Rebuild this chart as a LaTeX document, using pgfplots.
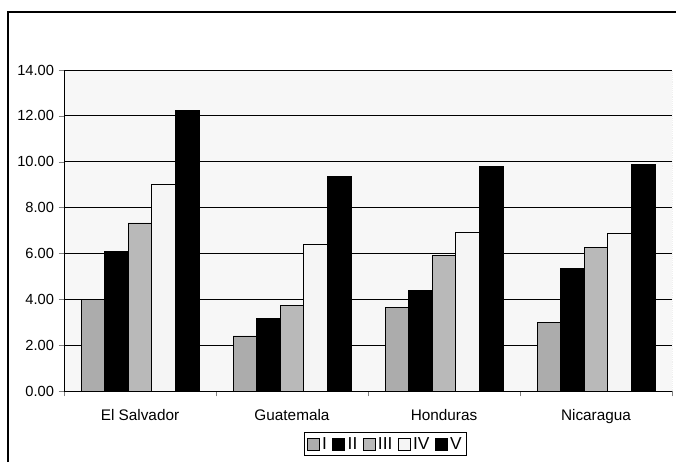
\documentclass[border=0pt]{standalone}
\usepackage{fontspec}
\setmainfont{Liberation Sans}
\usepackage{pgfplots}
\pgfplotsset{compat=1.18}
\usetikzlibrary{calc}
\begin{document}
\begin{tikzpicture}[x=0.75pt,y=0.75pt]
\begin{axis}[
  scale only axis, width=456pt, height=240.75pt,
  ybar=0pt, bar width=0.155,
  xmin=-0.5, xmax=3.5, ymin=0, ymax=14,
  xtick={0,1,2,3},
  xticklabels={El Salvador,Guatemala,Honduras,Nicaragua},
  minor xtick={-0.5,0.5,1.5,2.5,3.5},
  major x tick style={draw=none},
  minor tick length=4pt,
  ytick={0,2,...,14},
  major tick length=4pt,
  tick align=outside,
  axis x line*=bottom, axis y line*=left,
  axis line style={black, line width=0.6pt},
  ymajorgrids, major grid style={black, line width=0.6pt},
  yticklabel style={/pgf/number format/fixed,/pgf/number format/precision=2,/pgf/number format/fixed zerofill, font=\fontsize{11}{12}\selectfont},
  /pgf/number format/assume math mode=true,
  xticklabel style={font=\fontsize{11.5}{12}\selectfont, yshift=-6pt},
  axis background/.style={fill=gray!6},
  every axis plot/.append style={draw=black, line width=0.5pt},
  legend columns=5,
  legend style={at={(0.529,-0.128)}, anchor=north, draw=black, line width=0.6pt,
    font=\fontsize{13}{13}\selectfont, inner sep=1.5pt,
    /tikz/every even column/.append style={column sep=2pt}},
  legend image code/.code={\draw[#1, line width=0.5pt] (0pt,-4.5pt) rectangle (9pt,4.5pt);},
]
\addplot[fill=gray!65] coordinates {(0,4.00) (1,2.40) (2,3.66) (3,3.00)};
\addplot[fill=black] coordinates {(0,6.08) (1,3.15) (2,4.37) (3,5.33)};
\addplot[fill=gray!55] coordinates {(0,7.33) (1,3.72) (2,5.92) (3,6.25)};
\addplot[fill=gray!8] coordinates {(0,9.00) (1,6.40) (2,6.92) (3,6.86)};
\addplot[fill=black] coordinates {(0,12.25) (1,9.35) (2,9.81) (3,9.88)};
\legend{I,II,III,IV,V}
\draw[densely dotted, gray] (rel axis cs:1,0) -- (rel axis cs:1,1);
\coordinate (sw) at (rel axis cs:0,0);
\end{axis}
\pgfresetboundingbox
\useasboundingbox ($(sw)+(-64,-71)$) rectangle ++(676,462);
\draw[line width=0.8pt] ($(sw)+(-56,-71)$) -- ++(0,450) -- ++(668,0);
\end{tikzpicture}
\end{document}
